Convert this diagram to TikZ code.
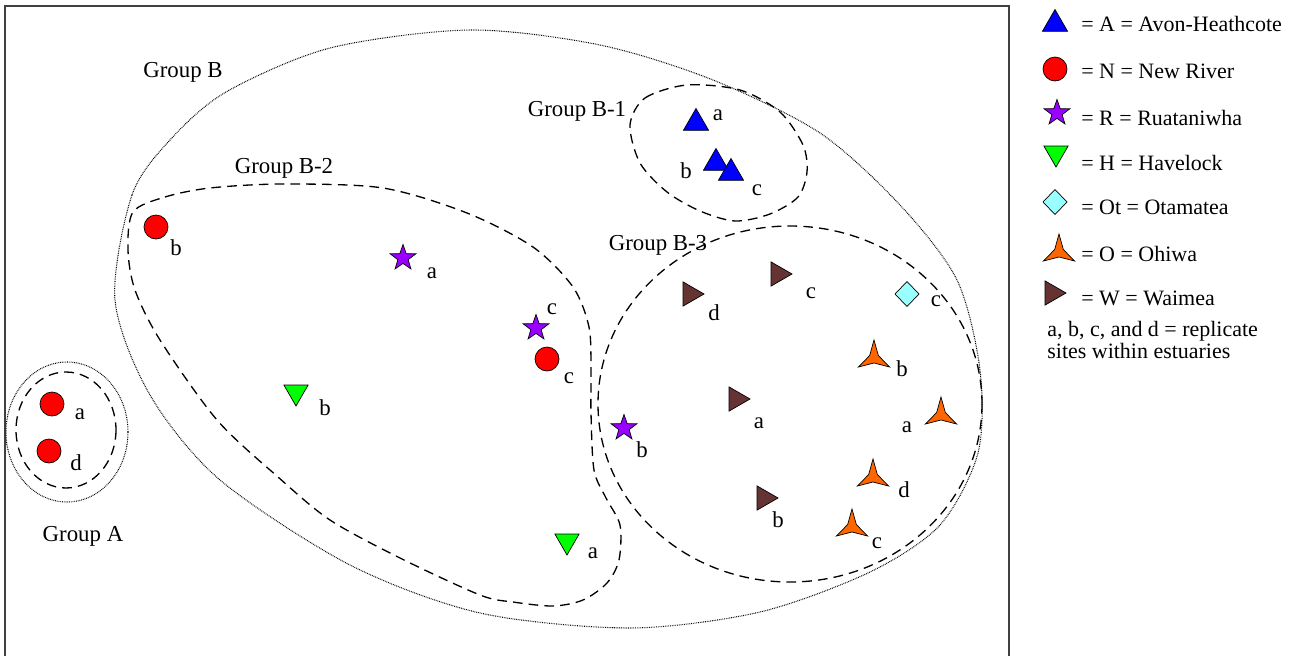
\documentclass[tikz,border=0pt]{standalone}
\usepackage{fontspec}
\setmainfont{Liberation Serif}
\usetikzlibrary{shapes.geometric}
\definecolor{avonblue}{RGB}{0,0,255}
\definecolor{riverred}{RGB}{255,0,0}
\definecolor{ruapurple}{RGB}{153,0,255}
\definecolor{havgreen}{RGB}{0,255,0}
\definecolor{otacyan}{RGB}{153,255,255}
\definecolor{ohiorange}{RGB}{255,102,0}
\definecolor{waibrown}{RGB}{102,51,51}

\begin{document}
\begin{tikzpicture}[x=0.02cm, y=-0.02cm, font=\fontsize{13}{15}\selectfont,
  site/.style={draw=black, line width=0.4pt, inner sep=0pt, outer sep=0pt},
  avon/.style={site, fill=avonblue, regular polygon, regular polygon sides=3, minimum size=0.58cm},
  river/.style={site, fill=riverred, circle, minimum size=0.48cm},
  rua/.style={site, fill=ruapurple, star, star points=5, star point ratio=2.5, minimum size=0.54cm},
  hav/.style={site, fill=havgreen, regular polygon, regular polygon sides=3, shape border rotate=180, minimum size=0.56cm},
  ota/.style={site, fill=otacyan, diamond, minimum width=0.48cm, minimum height=0.5cm},
  ohi/.style={site, fill=ohiorange, star, star points=3, star point ratio=3.6, minimum size=0.72cm},
  wai/.style={site, fill=waibrown, regular polygon, regular polygon sides=3, shape border rotate=-90, minimum size=0.56cm},
  siteid/.style={inner sep=0pt},
  grpname/.style={inner sep=0pt},
  legend/.style={anchor=west, inner sep=0pt, font=\fontsize{12.5}{15}\selectfont},
  grpdots/.style={line width=0.6pt, dash pattern=on 0.45pt off 0.55pt},
  grpdash/.style={line width=0.75pt, dash pattern=on 5.5pt off 3.5pt}]
  \useasboundingbox (0,0) rectangle (1296,656);

  % plot frame
  \draw[line width=1pt, black!75] (5,656) -- (5,6) -- (1009,6) -- (1009,656);

  % groups
  \draw[grpdots] plot[smooth cycle] coordinates {(115,300) (132,195) (170,140) (226,92) (330,48) (470,30) (600,45) (713,80) (820,133) (900,205) (957,280) (980,370) (978,453) (940,525) (870,572) (760,612) (630,628) (480,613) (350,565) (220,480) (150,395)};
  \draw[grpdash] plot[smooth cycle] coordinates {(630,125) (645,98) (687,85) (740,90) (780,112) (803,145) (807,172) (798,197) (770,214) (735,221) (700,211) (667,192) (640,163)};
  \draw[grpdash] plot[smooth cycle] coordinates {(133,212) (165,197) (210,188) (283,184) (383,188) (467,213) (533,247) (573,287) (589,327) (591,370) (591,413) (594,470) (606,498) (620,525) (619,560) (607,583) (583,600) (553,606) (513,602) (480,595) (400,558) (330,520) (278,477) (217,420) (160,340) (135,290) (128,250)};
  \draw[grpdash] (790,404) ellipse [x radius=192, y radius=178];
  \draw[grpdots] (67,432) ellipse [x radius=61, y radius=70];
  \draw[grpdash] (66,430) ellipse [x radius=50, y radius=58];

  \node[grpname] (gB) at (183,72) {Group B};
  \node[grpname] (gB1) at (577,111) {Group B-1};
  \node[grpname] (gB2) at (284,168) {Group B-2};
  \node[grpname] (gB3) at (658,245) {Group B-3};
  \node[grpname] (gA) at (83,536) {Group A};

  % Avon-Heathcote
  \node[avon] (Aa) at (696,123) {};
  \node[avon] (Ab) at (716,163) {};
  \node[avon] (Ac) at (731,173) {};
  \node[siteid] (lAa) at (718,115) {a};
  \node[siteid] (lAb) at (686,171) {b};
  \node[siteid] (lAc) at (757,190) {c};

  % New River
  \node[river] (Na) at (52,404) {};
  \node[river] (Nd) at (49,451) {};
  \node[river] (Nb) at (156,227) {};
  \node[river] (Nc) at (547,359) {};
  \node[siteid] (lNa) at (80,414) {a};
  \node[siteid] (lNd) at (76,463) {d};
  \node[siteid] (lNb) at (176,248) {b};
  \node[siteid] (lNc) at (569,378) {c};

  % Ruataniwha
  \node[rua] (Ra) at (403,258) {};
  \node[rua] (Rc) at (536,328) {};
  \node[rua] (Rb) at (624,428) {};
  \node[siteid] (lRa) at (432,273) {a};
  \node[siteid] (lRc) at (552,309) {c};
  \node[siteid] (lRb) at (642,450) {b};

  % Havelock
  \node[hav] (Hb) at (296,392) {};
  \node[hav] (Ha) at (567,541) {};
  \node[siteid] (lHb) at (325,408) {b};
  \node[siteid] (lHa) at (593,553) {a};

  % Otamatea
  \node[ota] (Otc) at (907,294) {};
  \node[siteid] (lOtc) at (936,301) {c};

  % Ohiwa
  \node[ohi] (Ob) at (874,358) {};
  \node[ohi] (Oa) at (941,415) {};
  \node[ohi] (Od) at (873,477) {};
  \node[ohi] (Oc) at (852,527) {};
  \node[siteid] (lOb) at (902,369) {b};
  \node[siteid] (lOa) at (907,427) {a};
  \node[siteid] (lOd) at (904,490) {d};
  \node[siteid] (lOc) at (877,543) {c};

  % Waimea
  \node[wai] (Wd) at (690,294) {};
  \node[wai] (Wc) at (778,274) {};
  \node[wai] (Wa) at (736,399) {};
  \node[wai] (Wb) at (764,498) {};
  \node[siteid] (lWd) at (714,313) {d};
  \node[siteid] (lWc) at (811,293) {c};
  \node[siteid] (lWa) at (759,423) {a};
  \node[siteid] (lWb) at (778,520) {b};

  % key
  \node[avon] (kA) at (1055,24) {};
  \node[river] (kN) at (1055,69) {};
  \node[rua] (kR) at (1057,113) {};
  \node[hav] (kH) at (1056,153) {};
  \node[ota] (kOt) at (1055,202) {};
  \node[ohi] (kO) at (1059,252) {};
  \node[wai] (kW) at (1052,293) {};
  \node[legend] (tA) at (1081,24) {= A = Avon-Heathcote};
  \node[legend] (tN) at (1081,71) {= N = New River};
  \node[legend] (tR) at (1081,118) {= R = Ruataniwha};
  \node[legend] (tH) at (1081,163) {= H = Havelock};
  \node[legend] (tOt) at (1081,207) {= Ot = Otamatea};
  \node[legend] (tO) at (1081,254) {= O = Ohiwa};
  \node[legend] (tW) at (1081,298) {= W = Waimea};
  \node[legend, anchor=base west] (tnote1) at (1047,336) {a, b, c, and d = replicate};
  \node[legend, anchor=base west] (tnote2) at (1047,358) {sites within estuaries};
\end{tikzpicture}
\end{document}
